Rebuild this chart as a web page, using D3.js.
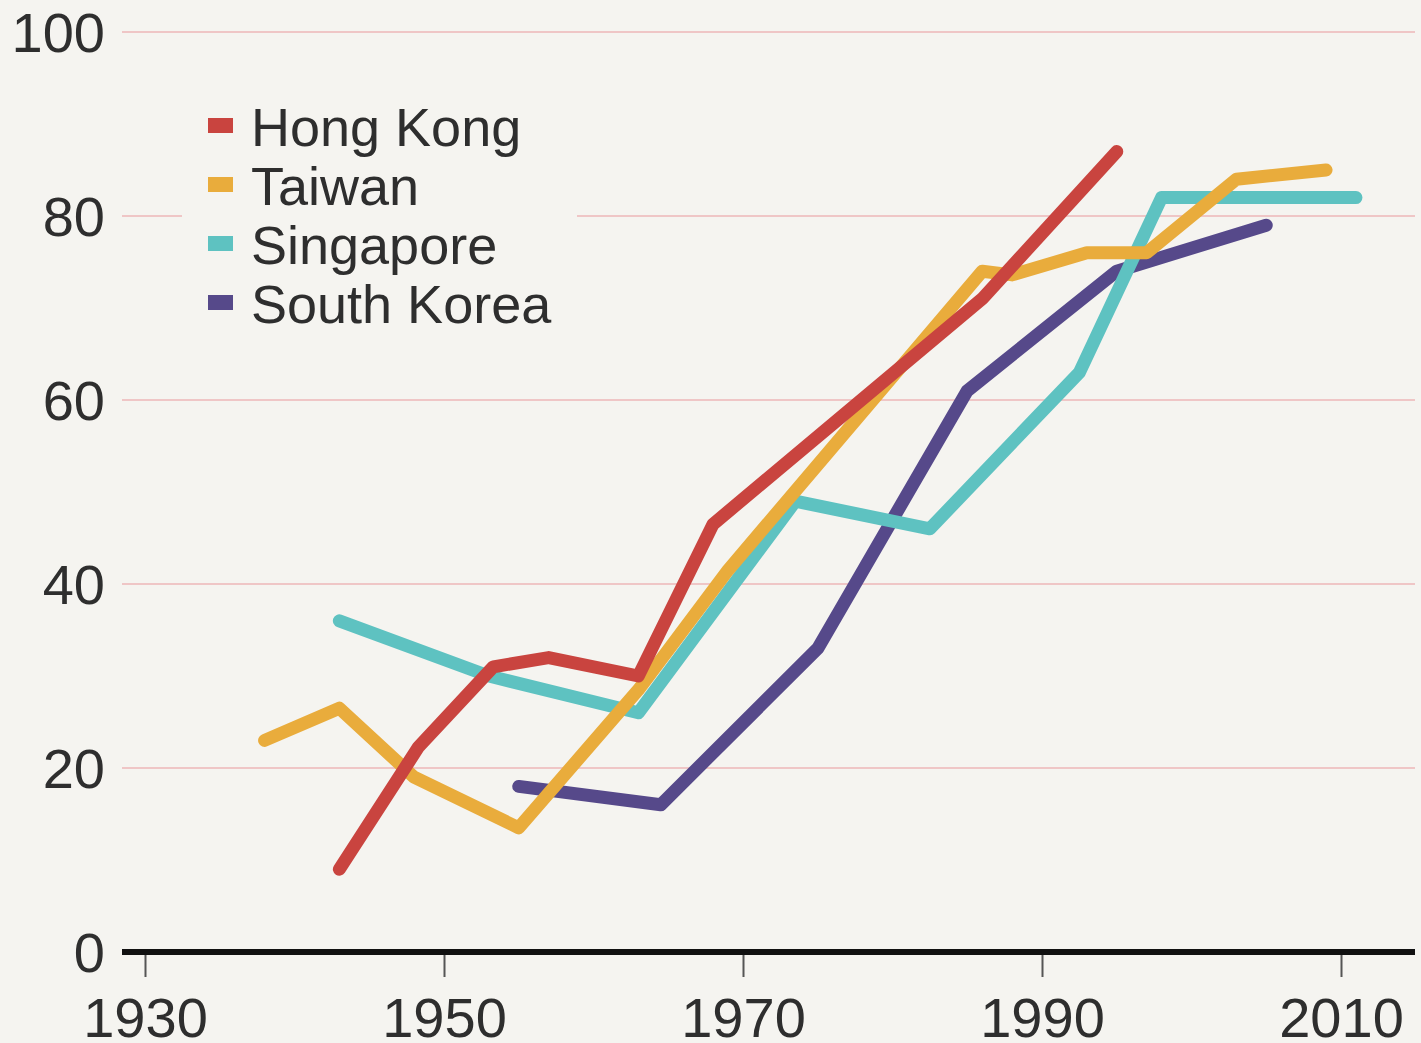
<!DOCTYPE html>
<html>
<head>
<meta charset="utf-8">
<script src="https://cdn.jsdelivr.net/npm/d3@7"></script>
<style>
  html, body { margin: 0; padding: 0; background: #f5f4f0; }
  svg { display: block; }
  text { font-family: "Liberation Sans", Arial, sans-serif; fill: #2e2e2e; }
</style>
</head>
<body>
<svg id="chart" width="1421" height="1043"></svg>
<script>
// ---- data ----
const seriesNames = ["Hong Kong", "Taiwan", "Singapore", "South Korea"];
const seriesColors = ["#c9443f", "#e9ac3c", "#5ec2c1", "#56498a"];

const hongKong = [[1943, 9], [1948.3, 22.3], [1953.3, 31], [1957, 32], [1963, 30], [1968, 46.5], [1986, 71], [1995, 87]];
const taiwan = [[1938, 23], [1943, 26.5], [1948, 19], [1955, 13.5], [1963, 28.5], [1969, 41.5], [1986, 74], [1988, 73.6], [1993, 76], [1997, 76], [2003, 84], [2009, 85]];
const singapore = [[1943, 36], [1953, 30], [1963, 26], [1973.5, 49], [1982.5, 46], [1992.5, 63], [1998, 82], [2011, 82]];
const southKorea = [[1955, 18], [1964.5, 16], [1975, 33], [1985, 61], [1995, 74], [2005, 79]];

const xTicks = [1930, 1950, 1970, 1990, 2010];
const yTicks = [0, 20, 40, 60, 80, 100];

// ---- layout ----
const svg = d3.select("#chart");
const x = d3.scaleLinear().domain([1930, 2010]).range([145, 1341]);
const y = d3.scaleLinear().domain([0, 100]).range([952, 32]);
const plotLeft = 122, plotRight = 1415;

svg.append("rect").attr("width", 1421).attr("height", 1043).attr("fill", "#f5f4f0");

// gridlines
svg.append("g").selectAll("line").data(yTicks.filter(d => d > 0)).join("line")
  .attr("x1", plotLeft).attr("x2", plotRight)
  .attr("y1", d => y(d)).attr("y2", d => y(d))
  .attr("stroke", "#efc6c6").attr("stroke-width", 2);

// y labels
svg.append("g").selectAll("text").data(yTicks).join("text")
  .attr("x", 105).attr("y", d => y(d)).attr("dy", "0.36em")
  .attr("text-anchor", "end").attr("font-size", 56)
  .text(d => d);

// x axis
const xAxis = d3.axisBottom(x).tickValues(xTicks).tickFormat(d3.format("d")).tickSize(25).tickPadding(8);
const gx = svg.append("g").attr("transform", `translate(0,${y(0)})`).call(xAxis);
gx.select(".domain").remove();
gx.selectAll(".tick line").attr("stroke", "#555").attr("stroke-width", 2);
gx.selectAll(".tick text").attr("font-size", 56).attr("fill", "#2e2e2e")
  .attr("font-family", "Liberation Sans, Arial, sans-serif").attr("y", 85).attr("dy", "0");
svg.append("line").attr("x1", plotLeft).attr("x2", plotRight)
  .attr("y1", y(0)).attr("y2", y(0)).attr("stroke", "#111").attr("stroke-width", 6);

// lines
const allSeries = [southKorea, singapore, taiwan, hongKong];
const allColors = [seriesColors[3], seriesColors[2], seriesColors[1], seriesColors[0]];
const line = d3.line().x(d => x(d[0])).y(d => y(d[1]));
svg.append("g").selectAll("path").data(allSeries).join("path")
  .attr("d", line)
  .attr("fill", "none")
  .attr("stroke", (d, i) => allColors[i])
  .attr("stroke-width", 13)
  .attr("stroke-linecap", "round")
  .attr("stroke-linejoin", "round");

// legend
const legend = svg.append("g");
legend.append("rect").attr("x", 182).attr("y", 95).attr("width", 395).attr("height", 240).attr("fill", "#f5f4f0");
const rows = legend.selectAll("g").data(seriesNames).join("g")
  .attr("transform", (d, i) => `translate(0,${127 + i * 59})`);
rows.append("rect").attr("x", 208).attr("y", -9).attr("width", 25).attr("height", 15)
  .attr("fill", (d, i) => seriesColors[i]);
rows.append("text").attr("x", 251).attr("y", 0).attr("dy", "0.36em")
  .attr("font-size", 54).text(d => d);
</script>
</body>
</html>
